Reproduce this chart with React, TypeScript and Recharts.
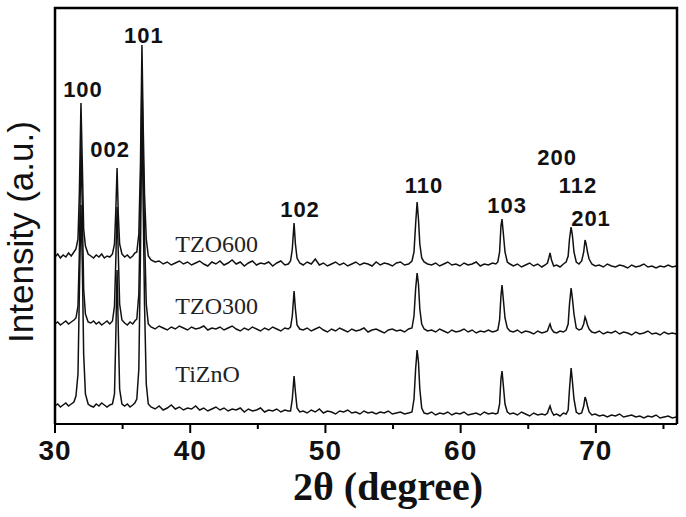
import { ComposedChart, Line, Scatter, XAxis, YAxis } from 'recharts';

const SANS = '"Liberation Sans", Arial, sans-serif';
const SERIF = '"Liberation Serif", "Times New Roman", serif';

// 2θ grid (degree), denser around the peaks
const angles = [
  30.0, 30.2, 30.4, 30.6, 30.8, 31.0, 31.2, 31.4,
  31.55, 31.7, 31.8, 31.92, 32.02, 32.12, 32.25, 32.45,
  32.65, 32.85, 33.05, 33.25, 33.45, 33.65, 33.85, 34.05,
  34.25, 34.4, 34.5, 34.59, 34.68, 34.78, 34.95,
  35.15, 35.35, 35.55, 35.75, 35.9,
  36.05, 36.2, 36.32, 36.43, 36.52, 36.62, 36.75, 36.9,
  37.1, 37.4, 37.7, 38.0, 38.3, 38.6, 38.9, 39.2, 39.5, 39.8,
  40.1, 40.4, 40.7, 41.0, 41.3, 41.6, 41.9, 42.2, 42.5, 42.8,
  43.1, 43.4, 43.7, 44.0, 44.3, 44.6, 44.9, 45.2, 45.5, 45.8,
  46.1, 46.4, 46.7, 47.0, 47.25,
  47.42, 47.55, 47.68, 47.78, 47.9, 48.1,
  48.35, 48.65, 48.95, 49.25, 49.55, 49.85, 50.15, 50.45, 50.75, 51.05,
  51.35, 51.65, 51.95, 52.25, 52.55, 52.85, 53.15, 53.45, 53.75, 54.05,
  54.35, 54.65, 54.95, 55.25, 55.55, 55.85, 56.15,
  56.4, 56.55, 56.67, 56.78, 56.88, 56.98, 57.12, 57.3,
  57.55, 57.85, 58.15, 58.45, 58.75, 59.05, 59.35, 59.65, 59.95, 60.25,
  60.55, 60.85, 61.15, 61.45, 61.75, 62.05, 62.35, 62.6,
  62.75, 62.88, 62.98, 63.06, 63.16, 63.28, 63.45, 63.65,
  63.9, 64.2, 64.5, 64.8, 65.1, 65.4, 65.7, 66.0, 66.25,
  66.42, 66.52, 66.61, 66.72, 66.88,
  67.1, 67.35, 67.6, 67.8,
  67.95, 68.05, 68.17, 68.27, 68.38, 68.55, 68.75,
  68.95, 69.1, 69.2, 69.28, 69.38, 69.5, 69.7,
  69.95, 70.25, 70.55, 70.85, 71.15, 71.45, 71.75, 72.05, 72.35, 72.65,
  72.95, 73.25, 73.55, 73.85, 74.15, 74.45, 74.75, 75.05, 75.35, 75.65,
  75.95,
];

// stacked intensities (a.u., offset already included)
const tzo600 = [
  167, 170, 166, 169, 167, 171, 168, 172,
  175, 185, 230, 321, 260, 195, 178, 170,
  168, 166, 169, 167, 170, 166, 168, 167,
  170, 180, 215, 256, 210, 180, 170,
  167, 169, 166, 168, 171,
  172, 190, 260, 379, 300, 230, 185, 168,
  164, 162, 163, 160, 162, 159, 161, 163, 160, 162,
  159, 161, 163, 160, 158, 162, 160, 163, 159, 161,
  164, 160, 162, 158, 161, 163, 159, 161, 160, 162,
  158, 161, 163, 159, 160,
  163, 175, 201, 180, 166, 161,
  159, 162, 160, 165, 159, 161, 158, 160, 162, 159,
  161, 158, 160, 162, 159, 161, 160, 158, 162, 159,
  161, 160, 158, 161, 162, 159, 160,
  163, 172, 200, 222, 205, 180, 166, 162,
  160, 159, 161, 158, 160, 162, 159, 160, 158, 161,
  159, 160, 162, 158, 160, 159, 161, 160,
  162, 172, 198, 205, 190, 172, 162, 160,
  158, 160, 157, 159, 161, 158, 160, 157, 159,
  161, 166, 171, 164, 158,
  159, 157, 160, 162,
  168, 185, 197, 188, 172, 162, 160,
  163, 172, 184, 180, 172, 165, 160,
  158, 159, 157, 160, 158, 157, 159, 158, 156, 159,
  157, 158, 160, 157, 158, 156, 158, 157, 159, 157,
  158,
];

const tzo300 = [
  100, 102, 99, 101, 103, 100, 102, 104,
  106, 118, 170, 281, 215, 135, 110, 102,
  101, 103, 100, 102, 99, 101, 103, 100,
  103, 118, 165, 217, 170, 120, 104,
  101, 99, 102, 100, 103,
  105, 130, 220, 347, 270, 190, 120, 100,
  97, 95, 98, 96, 94, 97, 95, 98, 96, 94,
  97, 95, 96, 98, 94, 96, 95, 97, 94, 96,
  98, 95, 93, 96, 94, 97, 95, 93, 96, 94,
  97, 95, 93, 96, 95,
  97, 108, 133, 115, 99, 95,
  94, 96, 93, 95, 97, 94, 92, 95, 93, 96,
  94, 92, 95, 93, 94, 96, 92, 94, 95, 93,
  91, 94, 95, 93, 94, 92, 95,
  96, 108, 135, 151, 140, 115, 100, 95,
  93, 94, 92, 95, 93, 91, 94, 92, 93, 95,
  92, 94, 91, 93, 92, 94, 92, 93,
  94, 104, 128, 139, 124, 106, 96, 93,
  92, 94, 91, 93, 92, 90, 93, 91, 92,
  93, 97, 100, 95, 92,
  91, 93, 92, 94,
  100, 120, 136, 125, 110, 96, 94,
  95, 100, 107, 104, 99, 95, 92,
  91, 93, 90, 92, 91, 93, 90, 92, 91, 89,
  92, 90, 91, 93, 90, 91, 89, 92, 90, 91,
  90,
];

const tiZnO = [
  18, 20, 17, 19, 21, 18, 20, 22,
  28, 50, 130, 219, 160, 70, 30, 20,
  18, 17, 20, 18, 21, 19, 17, 19,
  20, 30, 90, 154, 95, 35, 20,
  18, 20, 17, 19, 21,
  25, 55, 170, 319, 220, 120, 40, 20,
  17, 15, 18, 14, 16, 19, 15, 17, 14, 16,
  15, 18, 14, 16, 13, 15, 17, 14, 16, 13,
  15, 14, 16, 12, 15, 13, 14, 16, 12, 14,
  13, 15, 12, 14, 13,
  13, 25, 48, 32, 16, 12,
  13, 11, 14, 12, 15, 11, 13, 12, 10, 13,
  12, 14, 11, 12, 10, 13, 11, 12, 10, 12,
  11, 13, 10, 11, 12, 10, 11,
  12, 25, 55, 74, 62, 35, 16, 11,
  10, 12, 9, 11, 10, 12, 9, 11, 10, 12,
  9, 10, 11, 9, 12, 10, 11, 10,
  11, 20, 45, 53, 38, 20, 12, 10,
  11, 9, 12, 10, 8, 11, 9, 10, 9,
  11, 15, 18, 13, 9,
  10, 8, 11, 10,
  14, 35, 56, 42, 25, 12, 10,
  11, 18, 27, 24, 18, 12, 9,
  10, 8, 9, 7, 9, 8, 10, 7, 8, 9,
  7, 8, 6, 8, 7, 9, 6, 7, 8, 6,
  7,
];

// reflection labels
const hklLabels = ['100', '002', '101', '102', '110', '103', '200', '112', '201'];
const hklAngles = [32.07, 34.07, 36.58, 48.12, 57.29, 63.43, 67.13, 68.68, 69.64];
const hklHeights = [327, 267, 381, 207, 231, 211, 259, 231, 198];

const sampleNames = ['TZO600', 'TZO300', 'TiZnO'];
const sampleAngle = 38.9;
const sampleHeights = [172, 110, 42];

const xTicks = [30, 35, 40, 45, 50, 55, 60, 65, 70, 75];

const rows = angles.map((a, i) => ({
  angle: a,
  tzo600: tzo600[i],
  tzo300: tzo300[i],
  tizno: tiZnO[i],
}));

const hklPoints = hklLabels.map((t, i) => ({ angle: hklAngles[i], value: hklHeights[i], text: t }));
const samplePoints = sampleNames.map((t, i) => ({ angle: sampleAngle, value: sampleHeights[i], text: t }));

function XTick(props: any) {
  const { x, y, payload } = props;
  const major = payload.value % 10 === 0;
  return (
    <g>
      <line x1={x} x2={x} y1={y} y2={y + (major ? 9 : 5)} stroke="#000" strokeWidth={2} />
      {major && (
        <text x={x} y={y + 36} textAnchor="middle" fontFamily={SANS} fontWeight="bold" fontSize={28} letterSpacing={1} fill="#111">
          {payload.value}
        </text>
      )}
    </g>
  );
}

const XTitle = () => (
  <text x={388} y={500} textAnchor="middle" fontFamily={SERIF} fontWeight="bold" fontSize={40} fill="#111">
    2θ (degree)
  </text>
);

const renderHkl = (p: any) => (
  <text x={p.cx} y={p.cy} textAnchor="middle" fontFamily={SANS} fontWeight="bold" fontSize={22} letterSpacing={1} fill="#111">
    {p.payload.text}
  </text>
);

const renderSample = (p: any) => (
  <text x={p.cx} y={p.cy} textAnchor="start" fontFamily={SERIF} fontSize={24} fill="#222">
    {p.payload.text}
  </text>
);

export default function App() {
  return (
    <div style={{ position: 'absolute', left: 0, top: 0, width: 686, height: 517, background: '#fff' }}>
      <ComposedChart width={686} height={517} data={rows} margin={{ top: 8, right: 9, left: 54, bottom: 0 }}>
        <XAxis
          dataKey="angle"
          type="number"
          domain={[30, 76]}
          ticks={xTicks}
          interval={0}
          height={93}
          tickSize={0}
          tickMargin={0}
          tickLine={false}
          tick={<XTick />}
          axisLine={{ stroke: '#000', strokeWidth: 2 }}
          label={<XTitle />}
        />
        <YAxis type="number" domain={[0, 416]} width={1} tick={false} tickLine={false} axisLine={false} />
        <Line dataKey="tzo600" stroke="#111" strokeWidth={1.5} dot={false} type="linear" isAnimationActive={false} />
        <Line dataKey="tzo300" stroke="#111" strokeWidth={1.5} dot={false} type="linear" isAnimationActive={false} />
        <Line dataKey="tizno" stroke="#111" strokeWidth={1.5} dot={false} type="linear" isAnimationActive={false} />
        <Scatter data={hklPoints} dataKey="value" shape={renderHkl} isAnimationActive={false} />
        <Scatter data={samplePoints} dataKey="value" shape={renderSample} isAnimationActive={false} />
      </ComposedChart>
      {/* plot frame and y-axis title */}
      <svg width={686} height={517} style={{ position: 'absolute', left: 0, top: 0 }}>
        <path d="M55 424 L55 8 L677 8 L677 424" fill="none" stroke="#000" strokeWidth={2.5} />
        <text x={33} y={232} textAnchor="middle" fontFamily={SANS} fontSize={35} fill="#111" transform="rotate(-90, 33, 232)">
          Intensity (a.u.)
        </text>
      </svg>
    </div>
  );
}
